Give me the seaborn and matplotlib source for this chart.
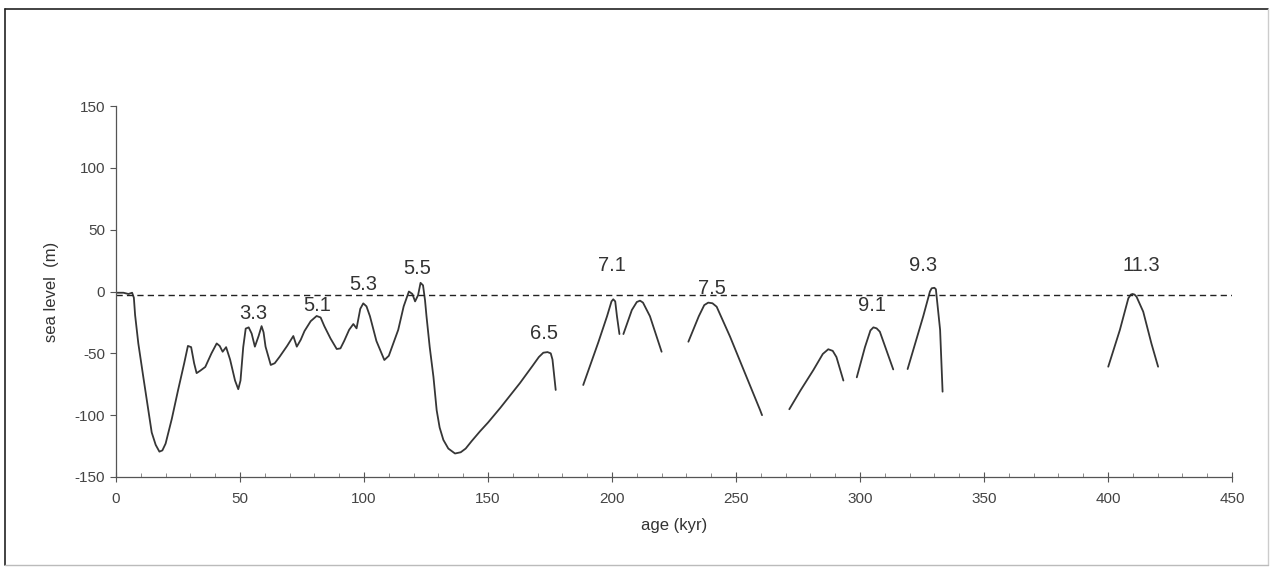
import numpy as np
import pandas as pd
import matplotlib
matplotlib.use('Agg')
import matplotlib.pyplot as plt
from matplotlib.lines import Line2D
from matplotlib.ticker import MultipleLocator
import seaborn as sns

# sea level reconstruction (age in kyr, level in m)
seg1_age = [0, 3, 5, 6.5, 7.2, 7.7, 9, 11, 14.4, 16, 17.5, 18.7, 20, 22.5, 25, 27.5,
            29, 30.3, 31.5, 32.5, 34, 36, 38.5, 40.6, 41.8, 43, 44.4, 46, 48, 49.3,
            50.2, 51.3, 52.3, 53.5, 54.7, 56, 57.5, 58.7, 59.5, 60.3, 62.4, 64, 66,
            69, 71.5, 72.9, 74.5, 76, 78.5, 80.9, 82.5, 84, 86.5, 89, 90.5, 92, 94,
            95.7, 97, 98.5, 99.7, 101, 102.4, 105, 108.2, 110, 113.8, 116, 118.1,
            119.5, 120.6, 121.8, 122.8, 123.8, 124.6, 125.2, 126.5, 128, 129.3, 130.5,
            132, 134, 136.7, 139, 141, 143.4, 146.8, 150, 155, 162.9, 168, 170.5, 172.3,
            174, 175.3, 176, 177.3]
seg1_lvl = [-1, -1, -2, -1, -5, -19, -42, -69, -114, -124, -129.5, -128.5, -123, -103,
            -80, -58, -44, -45, -58, -66, -64, -61, -50, -42, -44, -48.7, -45, -55, -72,
            -79, -72, -45, -30, -29, -34, -44.6, -36, -28, -33, -44.6, -59.4, -58, -52.7,
            -44, -36, -44.6, -39, -32, -24, -19.8, -21, -28, -38, -46.5, -46, -40, -31,
            -26.3, -29.8, -14, -9.6, -12, -20, -40, -55.4, -52, -31, -12, 0, -2, -8, -3, 7,
            5, -7, -20, -45, -69, -96, -110, -120, -127, -131, -130, -127, -121, -113,
            -106, -94, -74, -60, -53, -49.5, -49, -50, -55, -79.6]
seg2_age = [188.4, 194.5, 198, 199.8, 200.5, 201.3, 202, 203]
seg2_lvl = [-75.6, -41, -20, -8, -6.3, -8, -20, -34.4]
seg3_age = [204.6, 208, 210, 211.3, 212.5, 215.3, 220]
seg3_lvl = [-34.4, -15, -8.5, -7.4, -9, -20, -48.7]
seg4_age = [230.8, 235, 237.2, 238.8, 240.5, 242.2, 247.6, 253, 259.7, 260.5]
seg4_lvl = [-40.6, -20, -11, -9, -9.5, -12.3, -36.5, -63, -95.8, -100]
seg5_age = [271.5, 276, 281.2, 285, 287.2, 289, 290.5, 293.3]
seg5_lvl = [-95.2, -80, -63.5, -50.5, -46.7, -48, -53, -72]
seg6_age = [298.7, 302, 304.2, 305.4, 306.7, 308, 313.4]
seg6_lvl = [-69.4, -45, -31.5, -29, -29.8, -32.5, -63]
seg7_age = [319.2, 325.5, 328.2, 328.9, 330, 330.6, 332.3, 333.3]
seg7_lvl = [-62.7, -20, 0, 2.6, 3, 1.8, -31, -81]
seg8_age = [400.1, 404.8, 408.2, 409.2, 409.9, 410.7, 411.5, 414.2, 417.5, 420.2]
seg8_lvl = [-60.8, -31, -5.5, -2.5, -2, -2.5, -4.2, -16.3, -42, -60.8]

# marine isotope stage labels
stage_names = ['3.3', '5.1', '5.3', '5.5', '6.5', '7.1', '7.5', '9.1', '9.3', '11.3']
stage_age = [55.3, 81.2, 99.7, 121.5, 172.6, 199.9, 240.2, 304.7, 325.6, 413.5]
stage_lvl = [-17.5, -11, 5.8, 18.8, -34, 21.4, 2.6, -11.7, 21.4, 21.4]

present_level = -3

segments = [(seg1_age, seg1_lvl), (seg2_age, seg2_lvl), (seg3_age, seg3_lvl),
            (seg4_age, seg4_lvl), (seg5_age, seg5_lvl), (seg6_age, seg6_lvl),
            (seg7_age, seg7_lvl), (seg8_age, seg8_lvl)]
df = pd.concat([pd.DataFrame({'age': a, 'level': l, 'seg': i})
                for i, (a, l) in enumerate(segments)], ignore_index=True)

sns.set_style('white')
plt.rcParams['font.family'] = ['Liberation Sans', 'DejaVu Sans']
plt.rcParams['axes.unicode_minus'] = False

fig = plt.figure(figsize=(12.74, 5.67), dpi=100)
ax = fig.add_axes([116 / 1274, 1 - 477 / 567, (1232 - 116) / 1274, (477 - 106) / 567])

ink = '#363636'
sns.lineplot(data=df, x='age', y='level', units='seg', estimator=None,
             color=ink, linewidth=1.3, ax=ax, legend=False)
ax.axhline(present_level, color='#222222', linewidth=1.0, linestyle=(0, (4.5, 3)))

for name, a, l in zip(stage_names, stage_age, stage_lvl):
    ax.text(a, l, name, ha='center', va='center', fontsize=14.5, color='#333333')

ax.set_xlim(0, 450)
ax.set_ylim(-150, 150)
ax.xaxis.set_major_locator(MultipleLocator(50))
ax.xaxis.set_minor_locator(MultipleLocator(10))
ax.yaxis.set_major_locator(MultipleLocator(50))

for s in ['top', 'right']:
    ax.spines[s].set_visible(False)
for s in ['left', 'bottom']:
    ax.spines[s].set_color('#555555')
    ax.spines[s].set_linewidth(0.9)

ax.tick_params(axis='x', which='major', direction='inout', length=7, width=0.8,
               color='#555555', labelsize=11, labelcolor='#444444', pad=7)
ax.tick_params(axis='x', which='minor', direction='in', length=3, width=0.6,
               color='#777777')
ax.tick_params(axis='y', which='major', direction='out', length=4, width=0.8,
               color='#555555', labelsize=11, labelcolor='#444444', pad=4, left=True)
ax.tick_params(axis='x', bottom=True, which='both')

ax.set_xlabel('age (kyr)', fontsize=12, color='#333333', labelpad=9)
ax.set_ylabel('sea level  (m)', fontsize=12, color='#333333', labelpad=11)

# page frame around the chart
fig.add_artist(Line2D([5 / 1274, 5 / 1274], [1 - 565 / 567, 1 - 8.5 / 567],
                      transform=fig.transFigure, color='#222222', linewidth=1.2))
fig.add_artist(Line2D([5 / 1274, 1268 / 1274], [1 - 8.5 / 567, 1 - 8.5 / 567],
                      transform=fig.transFigure, color='#222222', linewidth=1.2))
fig.add_artist(Line2D([1268 / 1274, 1268 / 1274], [1 - 565 / 567, 1 - 8.5 / 567],
                      transform=fig.transFigure, color='#cccccc', linewidth=1.0))
fig.add_artist(Line2D([5 / 1274, 1268 / 1274], [1 - 565 / 567, 1 - 565 / 567],
                      transform=fig.transFigure, color='#bbbbbb', linewidth=1.0))

fig.savefig('out.png', dpi=100)
plt.close(fig)
